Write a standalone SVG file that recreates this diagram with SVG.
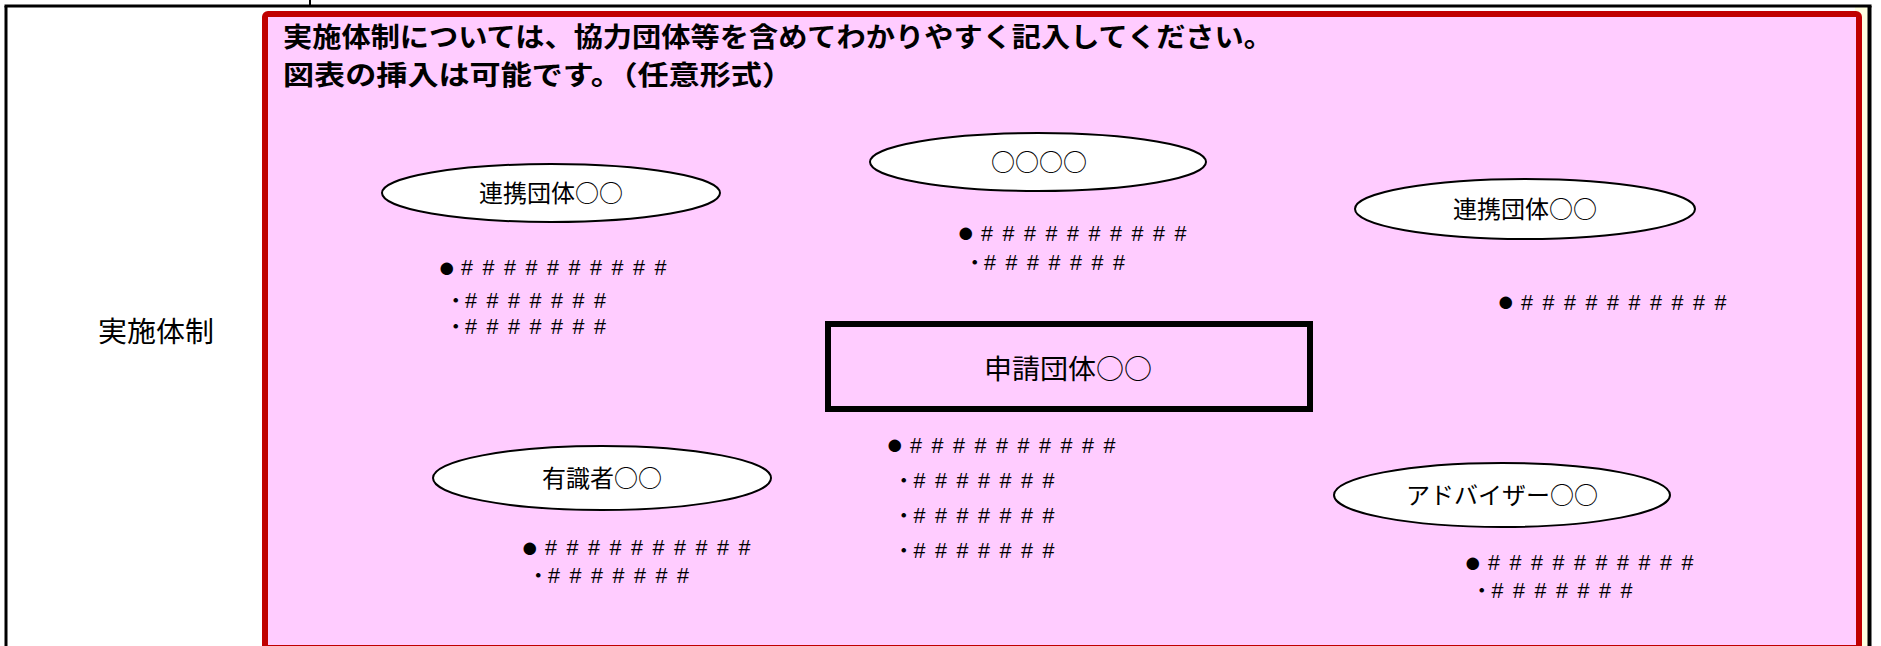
<svg xmlns="http://www.w3.org/2000/svg" width="1881" height="646" viewBox="0 0 1881 646">
<style>
.jp{font-family:"Noto Sans CJK JP","Noto Sans CJK SC",sans-serif;fill:#000}
.title{font-size:27px;font-weight:bold}
.lbl{font-size:24px;text-anchor:middle}
.bl{font-family:"Liberation Sans","Noto Sans CJK JP",sans-serif;font-size:21.5px;fill:#000}
.dot{font-size:29px}
.h{letter-spacing:9.55px}
.ell{fill:#fff;stroke:#000;stroke-width:2}
.frm{stroke:#000;fill:none}
</style>
<rect width="1881" height="646" fill="#fff"/>
<rect x="1855" y="7" width="14" height="639" fill="#FFFFE0"/>
<g id="frame">
<line class="frm" x1="4.5" y1="6" x2="1871.5" y2="6" stroke-width="3"/>
<line class="frm" x1="6" y1="6" x2="6" y2="646" stroke-width="3"/>
<line class="frm" x1="1869.5" y1="6" x2="1869.5" y2="646" stroke-width="4"/>
<line class="frm" x1="310" y1="0" x2="310" y2="6" stroke-width="2"/>
<text class="jp" x="98" y="342" font-size="28" textLength="116" lengthAdjust="spacingAndGlyphs">実施体制</text>
</g>
<g id="panel">
<rect x="265" y="14" width="1594" height="634" rx="3" fill="#FFCCFF" stroke="#C00000" stroke-width="6"/>
<text class="jp title" x="283" y="47" textLength="990" lengthAdjust="spacingAndGlyphs">実施体制については、協力団体等を含めてわかりやすく記入してください。</text>
<text class="jp title" x="283" y="85" textLength="510" lengthAdjust="spacingAndGlyphs">図表の挿入は可能です。（任意形式）</text>
</g>
<g id="connectors"></g>
<g id="node-renkei1">
<ellipse class="ell" cx="551" cy="193" rx="169" ry="29"/>
<text class="jp lbl" x="551" y="202">連携団体○○</text>
<text class="bl" y="275"><tspan class="dot" x="438" dy="1.5">●</tspan><tspan class="h" x="461" dy="-1.5">##########</tspan></text>
<text class="bl" y="308"><tspan x="445">・</tspan><tspan class="h" x="465">#######</tspan></text>
<text class="bl" y="333.5"><tspan x="445">・</tspan><tspan class="h" x="465">#######</tspan></text>
</g>
<g id="node-center-top">
<ellipse class="ell" cx="1038" cy="162" rx="168" ry="29"/>
<text class="jp lbl" x="1039" y="171">○○○○</text>
<text class="bl" y="240.5"><tspan class="dot" x="957" dy="1.5">●</tspan><tspan class="h" x="981" dy="-1.5">##########</tspan></text>
<text class="bl" y="269.5"><tspan x="964">・</tspan><tspan class="h" x="984">#######</tspan></text>
</g>
<g id="node-renkei2">
<ellipse class="ell" cx="1525" cy="209" rx="170" ry="30"/>
<text class="jp lbl" x="1525" y="218">連携団体○○</text>
<text class="bl" y="309.5"><tspan class="dot" x="1497" dy="1.5">●</tspan><tspan class="h" x="1521" dy="-1.5">##########</tspan></text>
</g>
<g id="node-applicant">
<rect x="828" y="324" width="482" height="85" fill="none" stroke="#000" stroke-width="6"/>
<text class="jp" x="1068" y="379" font-size="27" text-anchor="middle" textLength="168" lengthAdjust="spacingAndGlyphs">申請団体○○</text>
<text class="bl" y="452.5"><tspan class="dot" x="886" dy="1.5">●</tspan><tspan class="h" x="910" dy="-1.5">##########</tspan></text>
<text class="bl" y="487.5"><tspan x="893">・</tspan><tspan class="h" x="913.5">#######</tspan></text>
<text class="bl" y="522.5"><tspan x="893">・</tspan><tspan class="h" x="913.5">#######</tspan></text>
<text class="bl" y="557.5"><tspan x="893">・</tspan><tspan class="h" x="913.5">#######</tspan></text>
</g>
<g id="node-expert">
<ellipse class="ell" cx="602" cy="478" rx="169" ry="32"/>
<text class="jp lbl" x="602" y="487">有識者○○</text>
<text class="bl" y="555"><tspan class="dot" x="521" dy="1.5">●</tspan><tspan class="h" x="545" dy="-1.5">##########</tspan></text>
<text class="bl" y="582.5"><tspan x="527.5">・</tspan><tspan class="h" x="548">#######</tspan></text>
</g>
<g id="node-adviser">
<ellipse class="ell" cx="1502" cy="495" rx="168" ry="32"/>
<text class="jp lbl" x="1502" y="504">アドバイザー○○</text>
<text class="bl" y="570"><tspan class="dot" x="1464" dy="1.5">●</tspan><tspan class="h" x="1488" dy="-1.5">##########</tspan></text>
<text class="bl" y="597.5"><tspan x="1471">・</tspan><tspan class="h" x="1491.5">#######</tspan></text>
</g>
</svg>
